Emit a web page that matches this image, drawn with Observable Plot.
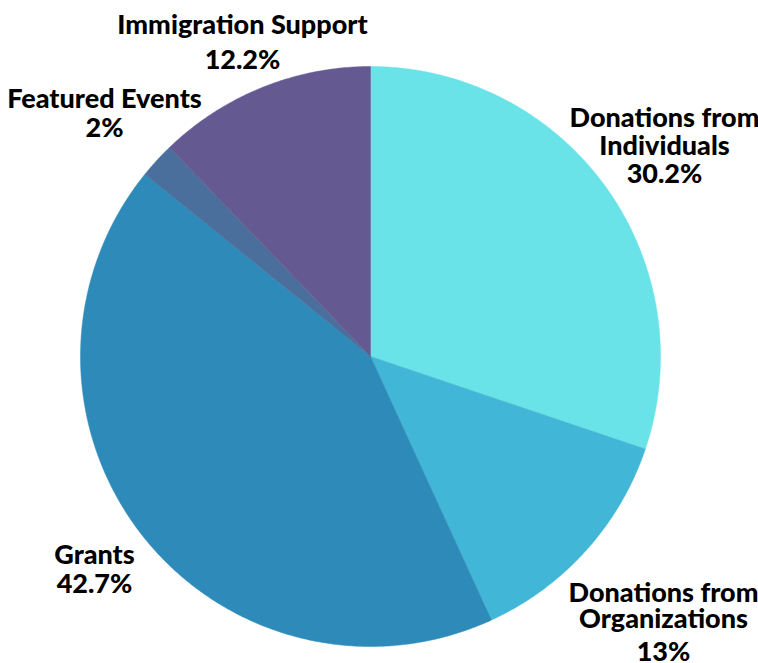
<!DOCTYPE html>
<html>
<head>
<meta charset="utf-8">
<script src="https://cdn.jsdelivr.net/npm/d3@7"></script>
<script src="https://cdn.jsdelivr.net/npm/@observablehq/plot@0.6"></script>
<style>
  html, body { margin: 0; padding: 0; background: #ffffff; }
  #chart svg { display: block; }
</style>
</head>
<body>
<div id="chart"></div>
<script>
// Data (clockwise from 12 o'clock)
const categories = ["Donations from Individuals", "Donations from Organizations", "Grants", "Featured Events", "Immigration Support"];
const values = [30.2, 13, 42.7, 2, 12.2];
const valueLabels = ["30.2%", "13%", "42.7%", "2%", "12.2%"];
const colors = ["#6ae3e8", "#42b6d6", "#2e8ab8", "#4a6f9c", "#645a91"];

// Label lines per category (the category name wrapped, then the value)
const nameLines = [
  ["Donations from", "Individuals"],
  ["Donations from", "Organizations"],
  ["Grants"],
  ["Featured Events"],
  ["Immigration Support"]
];

// Layout (pixels): label center x, and baseline of each line
const labelCenterX = [664, 663, 94, 104, 242];
const labelBaselines = [
  [126, 154, 182],
  [601, 627, 660],
  [563, 592],
  [107, 136],
  [33, 68]
];

const W = 758, H = 663, cx = 370, cy = 356, R = 290, FS = 27;

// Build slice polygons from values
const total = d3.sum(values);
const polys = [];
let acc = 0;
values.forEach((v, i) => {
  const a0 = acc / total * 2 * Math.PI;
  const a1 = (acc + v) / total * 2 * Math.PI;
  acc += v;
  polys.push({k: i, x: 0, y: 0, c: colors[i]});
  const n = Math.max(2, Math.ceil((a1 - a0) / (Math.PI / 360)));
  for (let j = 0; j <= n; j++) {
    const a = a0 + (a1 - a0) * j / n;
    polys.push({k: i, x: Math.sin(a), y: Math.cos(a), c: colors[i]});
  }
  polys.push({k: i, x: 0, y: 0, c: colors[i]});
});

// Text items: one per line, placed by baseline (top anchor => baseline = y + 0.71em)
const texts = [];
categories.forEach((c, i) => {
  const lines = [...nameLines[i], valueLabels[i]];
  lines.forEach((t, j) => {
    const yTopPx = labelBaselines[i][j] - 0.71 * FS;
    texts.push({x: (labelCenterX[i] - cx) / R, y: (cy - yTopPx) / R, t});
  });
});

const chart = Plot.plot({
  width: W,
  height: H,
  margin: 0,
  x: {domain: [-cx / R, (W - cx) / R], axis: null},
  y: {domain: [(cy - H) / R, cy / R], axis: null},
  color: {type: "identity"},
  marks: [
    Plot.line(polys, {x: "x", y: "y", z: "k", fill: "c", stroke: "c", strokeWidth: 0.5, curve: "linear"}),
    Plot.text(texts, {
      x: "x", y: "y", text: "t",
      lineHeight: 1,
      fontSize: FS,
      fontWeight: 900,
      fontFamily: "Lato, 'Open Sans', sans-serif",
      fill: "#000000",
      textAnchor: "middle",
      lineAnchor: "top"
    })
  ]
});
document.getElementById("chart").appendChild(chart);
</script>
</body>
</html>
